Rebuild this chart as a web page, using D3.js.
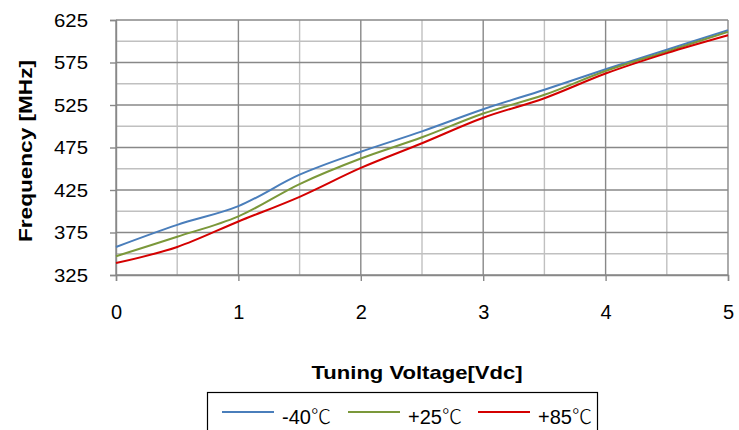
<!DOCTYPE html>
<html>
<head>
<meta charset="utf-8">
<script src="https://cdn.jsdelivr.net/npm/d3@7"></script>
<style>
  body { margin: 0; background: #fff; }
  svg { display: block; font-family: "Liberation Sans", Arial, sans-serif; }
</style>
</head>
<body>
<svg id="chart" width="739" height="430"></svg>
<script>
// Tuning curve at three temperatures (MHz)
const voltages = [0, 0.5, 1, 1.5, 2, 2.5, 3, 3.5, 4, 4.5, 5];
const minus40 = [358, 384, 406, 443, 470, 494, 520, 543, 567, 590, 613];
const plus25 = [347, 370, 394, 432, 462, 487, 515, 537, 565, 588, 611];
const plus85 = [339, 358, 388, 417, 451, 480, 510, 533, 562, 586, 607];
const seriesNames = ["-40", "+25", "+85"];
const seriesColors = ["#4a7ebb", "#7b983a", "#d40000"];
const xTicks = [0, 1, 2, 3, 4, 5];
const yTicks = [325, 375, 425, 475, 525, 575, 625];

const svg = d3.select("#chart");
const x = d3.scaleLinear().domain([0, 5]).range([116, 728]);
const y = d3.scaleLinear().domain([325, 625]).range([275, 20]);

// grid: minor lines first, majors on top
const grid = svg.append("g");
grid.selectAll(".vmin").data(d3.range(0.5, 5, 1)).join("line")
  .attr("x1", d => x(d)).attr("x2", d => x(d))
  .attr("y1", y(625)).attr("y2", y(325))
  .attr("stroke", "#c0c0c0").attr("stroke-width", 1.4);
grid.selectAll(".hmin").data(d3.range(350, 625, 50)).join("line")
  .attr("x1", x(0)).attr("x2", x(5))
  .attr("y1", d => y(d)).attr("y2", d => y(d))
  .attr("stroke", "#c0c0c0").attr("stroke-width", 1.4);
grid.selectAll(".vmaj").data(xTicks).join("line")
  .attr("x1", d => x(d)).attr("x2", d => x(d))
  .attr("y1", y(625)).attr("y2", y(325))
  .attr("stroke", "#888").attr("stroke-width", 1.4);
grid.selectAll(".hmaj").data(yTicks).join("line")
  .attr("x1", x(0)).attr("x2", x(5))
  .attr("y1", d => y(d)).attr("y2", d => y(d))
  .attr("stroke", "#888").attr("stroke-width", 1.4);

// axes
const yAxis = svg.append("g").attr("transform", `translate(${x(0)},0)`)
  .call(d3.axisLeft(y).tickValues(yTicks).tickSize(6).tickPadding(22));
const xAxis = svg.append("g").attr("transform", `translate(0,${y(325)})`)
  .call(d3.axisBottom(x).tickValues(xTicks).tickFormat(d3.format("d")).tickSize(6).tickPadding(24));
[yAxis, xAxis].forEach(a => {
  a.select(".domain").attr("stroke", "#888").attr("stroke-width", 1.4);
  a.selectAll(".tick line").attr("stroke", "#888").attr("stroke-width", 1.4);
  a.selectAll(".tick text").attr("fill", "#000")
    .attr("font-family", "Liberation Sans, Arial, sans-serif");
});
yAxis.selectAll(".tick text").attr("font-size", 19)
  .attr("textLength", 34).attr("lengthAdjust", "spacingAndGlyphs");
xAxis.selectAll(".tick text").attr("font-size", 20);

// curves
const line = d3.line().x(d => x(d[0])).y(d => y(d[1])).curve(d3.curveCatmullRom.alpha(0.5));
[minus40, plus25, plus85].forEach((vals, i) => {
  svg.append("path")
    .datum(voltages.map((v, j) => [v, vals[j]]))
    .attr("fill", "none")
    .attr("stroke", seriesColors[i])
    .attr("stroke-width", 2)
    .attr("d", line);
});

// axis titles
svg.append("text")
  .attr("transform", "translate(32,151) rotate(-90)")
  .attr("text-anchor", "middle")
  .attr("font-size", 19).attr("font-weight", "bold")
  .attr("textLength", 182).attr("lengthAdjust", "spacingAndGlyphs")
  .text("Frequency [MHz]");
svg.append("text")
  .attr("x", 417).attr("y", 379)
  .attr("text-anchor", "middle")
  .attr("font-size", 18.5).attr("font-weight", "bold")
  .attr("textLength", 211).attr("lengthAdjust", "spacingAndGlyphs")
  .text("Tuning Voltage[Vdc]");

// legend
const legend = svg.append("g");
legend.append("rect")
  .attr("x", 207.5).attr("y", 392.5).attr("width", 390).attr("height", 50)
  .attr("fill", "#fff").attr("stroke", "#000").attr("stroke-width", 1.2);
const legendLineX = [222, 348, 478];
seriesNames.forEach((name, i) => {
  legend.append("line")
    .attr("x1", legendLineX[i]).attr("x2", legendLineX[i] + 52)
    .attr("y1", 412).attr("y2", 412)
    .attr("stroke", seriesColors[i]).attr("stroke-width", 2);
  const t = legend.append("text")
    .attr("x", legendLineX[i] + 60).attr("y", 424)
    .attr("font-size", 20);
  t.append("tspan").text(name);
  t.append("tspan")
    .attr("font-family", "Noto Sans CJK SC, sans-serif")
    .attr("font-weight", 300)
    .text("℃");
});
</script>
</body>
</html>
